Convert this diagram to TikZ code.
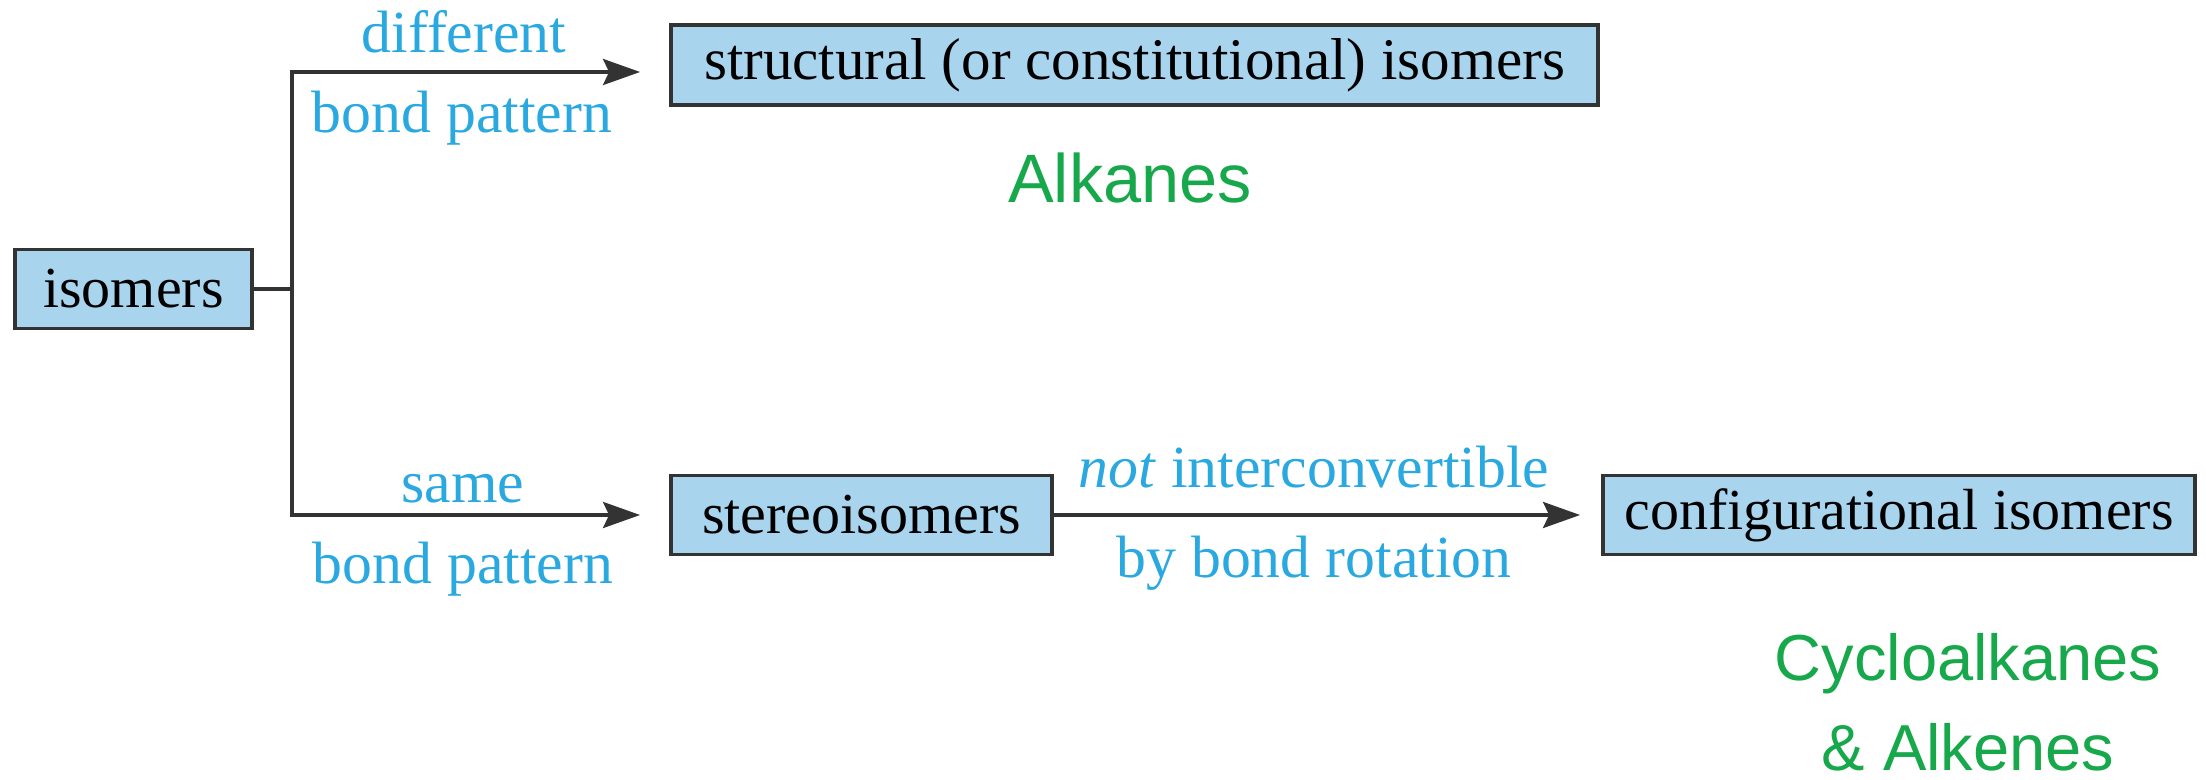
\documentclass[tikz,border=0pt]{standalone}
\usepackage{fontspec}
\setmainfont{Liberation Serif}
\setsansfont{Liberation Sans}
\usetikzlibrary{arrows.meta, positioning}
\definecolor{cfill}{HTML}{A9D4EE}
\definecolor{cedge}{HTML}{333333}
\definecolor{cblue}{HTML}{2AA8E0}
\definecolor{cgreen}{HTML}{17A84B}
\tikzset{
  every picture/.style={font=\fontsize{17}{20}\selectfont, line width=1pt},
  box/.style={draw=cedge, fill=cfill, line width=1.1pt, font=\fontsize{16.5}{20}\selectfont,
              minimum height=0.79cm, inner xsep=4pt, inner ysep=0pt},
  arrow/.style={-{Stealth[length=3.7mm, width=2.6mm, inset=0.6mm]}, draw=cedge, line width=1pt},
  lbl/.style={text=cblue, inner sep=0pt, anchor=base},
  tag/.style={font=\sffamily\fontsize{18.5}{22}\selectfont, text=cgreen, inner sep=0pt, anchor=base},
}

\begin{document}
\begin{tikzpicture}
  \useasboundingbox (0,0) rectangle (22.06,7.79);
  % boxes
  \node[box, minimum width=2.37cm] (iso) at (1.335,4.90) {isomers};
  \node[box, minimum width=9.27cm, minimum height=0.80cm, font=\fontsize{16.8}{20}\selectfont] (struct) at (11.345,7.14) {structural (or constitutional) isomers};
  \node[box, minimum width=3.81cm] (stereo) at (8.615,2.64) {stereoisomers};
  \node[box, minimum width=5.92cm] (config) at (18.99,2.64) {configurational isomers};
  \coordinate (split) at (2.92,4.90);
  % connectors
  \draw[draw=cedge] (iso.east) -- (split);
  \draw[arrow, shorten >=0.29cm] (split) |- ([yshift=-0.07cm]struct.west);
  \draw[arrow, shorten >=0.29cm] (split) |- (stereo.west);
  \draw[arrow, shorten >=0.21cm] (stereo.east) -- (config.west);
  % labels
  \node[lbl] (diff) at (4.64,7.26) {different};
  \node[lbl] (bp1) at (4.62,6.46) {bond pattern};
  \node[lbl] (same) at (4.63,2.77) {same};
  \node[lbl] (bp2) at (4.63,1.96) {bond pattern};
  \node[lbl] (notic) at (13.14,2.92) {\textit{not} interconvertible};
  \node[lbl] (rot) at (13.14,2.02) {by bond rotation};
  \node[tag, font=\sffamily\fontsize{19.5}{22}\selectfont] (alk) at (11.30,5.76) {Alkanes};
  \node[tag] (cyc) at (19.68,0.99) {Cycloalkanes};
  \node[tag] (alke) at (19.68,0.09) {\& Alkenes};
\end{tikzpicture}
\end{document}
